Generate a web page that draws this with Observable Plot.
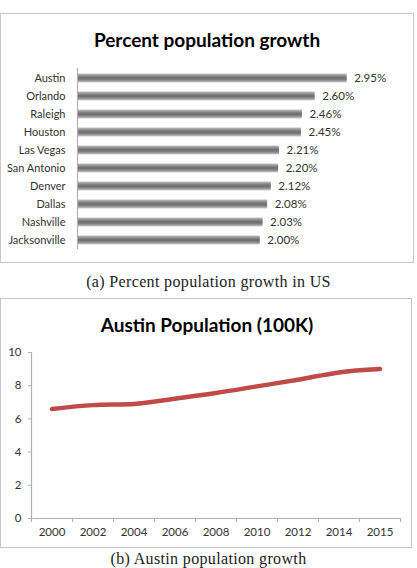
<!DOCTYPE html>
<html><head><meta charset="utf-8">
<script src="https://cdn.jsdelivr.net/npm/d3@7"></script>
<script src="https://cdn.jsdelivr.net/npm/@observablehq/plot@0.6"></script>
<style>
body{margin:0;background:#fff;width:417px;height:568px;overflow:hidden;position:relative;font-family:Lato,sans-serif;}
.box{position:absolute;border:1.5px solid #c8c8c8;box-sizing:border-box;}
.title{position:absolute;left:0;width:414px;text-align:center;font-weight:bold;font-size:19px;line-height:22px;color:#000;}
.caption{position:absolute;left:0;width:417px;text-align:center;font-family:"Liberation Serif",serif;font-size:16px;letter-spacing:0.35px;line-height:16px;color:#222;}
.chart{position:absolute;left:0;}
</style></head><body>
<div class="box" style="left:0;top:13px;width:414px;height:250px"></div>
<div class="title" style="top:29px">Percent population growth</div>
<div id="bars" class="chart" style="top:60px"></div>
<div class="caption" style="top:274px">(a) Percent population growth in US</div>
<div class="box" style="left:0;top:298px;width:412px;height:250px"></div>
<div class="title" style="top:314px">Austin Population (100K)</div>
<div id="line" class="chart" style="top:340px"></div>
<div class="caption" style="top:551px">(b) Austin population growth</div>
<script>
const cities = ["Austin","Orlando","Raleigh","Houston","Las Vegas","San Antonio","Denver","Dallas","Nashville","Jacksonville"];
const growth = [2.95,2.60,2.46,2.45,2.21,2.20,2.12,2.08,2.03,2.00];
const years = ["2000","2002","2004","2006","2008","2010","2012","2014","2015"];
const population = [6.6,6.83,6.9,7.22,7.56,7.96,8.36,8.8,9.0];
const yTicks = [0,2,4,6,8,10];

const rows = cities.map((c,i)=>({c, v: growth[i]}));

const bars = Plot.plot({
  width: 417, height: 195,
  marginLeft: 77, marginRight: 20, marginTop: 8, marginBottom: 6,
  style: {fontFamily: "Lato, sans-serif", fontSize: "11px", color: "#333", background: "transparent"},
  x: {domain: [0, 3.5], axis: null},
  y: {domain: cities, padding: 0, axis: null},
  marks: [
    Plot.axisY({tickSize: 0, tickPadding: 12, fontSize: 11, fill: "#333", label: null}),
    Plot.barX(rows, {x: "v", y: "c", fill: "url(#bargrad)", insetTop: 4.5, insetBottom: 4.5}),
    Plot.ruleX([0], {stroke: "#b0b0b0", strokeWidth: 1.2}),
    Plot.text(rows, {x: "v", y: "c", text: d => d.v.toFixed(2) + "%", dx: 7, textAnchor: "start", fontSize: 11.5, fill: "#333"})
  ]
});
const defs = d3.select(bars).insert("defs", ":first-child");
const g = defs.append("linearGradient").attr("id", "bargrad").attr("x1", 0).attr("y1", 0).attr("x2", 0).attr("y2", 1);
[[0,"#c4c4c4"],[0.3,"#858585"],[0.5,"#6c6c6c"],[0.72,"#858585"],[1,"#d0d0d0"]].forEach(([o,c]) =>
  g.append("stop").attr("offset", o).attr("stop-color", c));
document.getElementById("bars").appendChild(bars);

const idx = d3.range(years.length);
const bounds = d3.range(years.length + 1).map(i => i - 0.5);
const line = Plot.plot({
  width: 417, height: 200,
  marginLeft: 31, marginRight: 17, marginTop: 12, marginBottom: 22,
  style: {fontFamily: "Lato, sans-serif", fontSize: "11.5px", color: "#333", background: "transparent"},
  x: {type: "linear", domain: [bounds[0], bounds[bounds.length - 1]], axis: null},
  y: {domain: [0, 10], axis: null},
  marks: [
    Plot.ruleY([0], {stroke: "#b0b0b0", strokeWidth: 1.2}),
    Plot.ruleX([bounds[0]], {stroke: "#b0b0b0", strokeWidth: 1.2}),
    Plot.axisY(yTicks, {tickSize: 3, tickPadding: 7, fontSize: 11.5, stroke: "#b0b0b0", fill: "#333", label: null}),
    Plot.axisX(bounds, {tickSize: 4, tickFormat: () => "", stroke: "#b0b0b0", label: null}),
    Plot.axisX(idx, {tickSize: 0, tickPadding: 9, tickFormat: i => years[i], fontSize: 11.5, fill: "#333", label: null}),
    Plot.line(population, {x: (d, i) => i, y: d => d, stroke: "#bf4a47", strokeWidth: 4.5, curve: "monotone-x", strokeLinecap: "round"})
  ]
});
document.getElementById("line").appendChild(line);
</script>
</body></html>
